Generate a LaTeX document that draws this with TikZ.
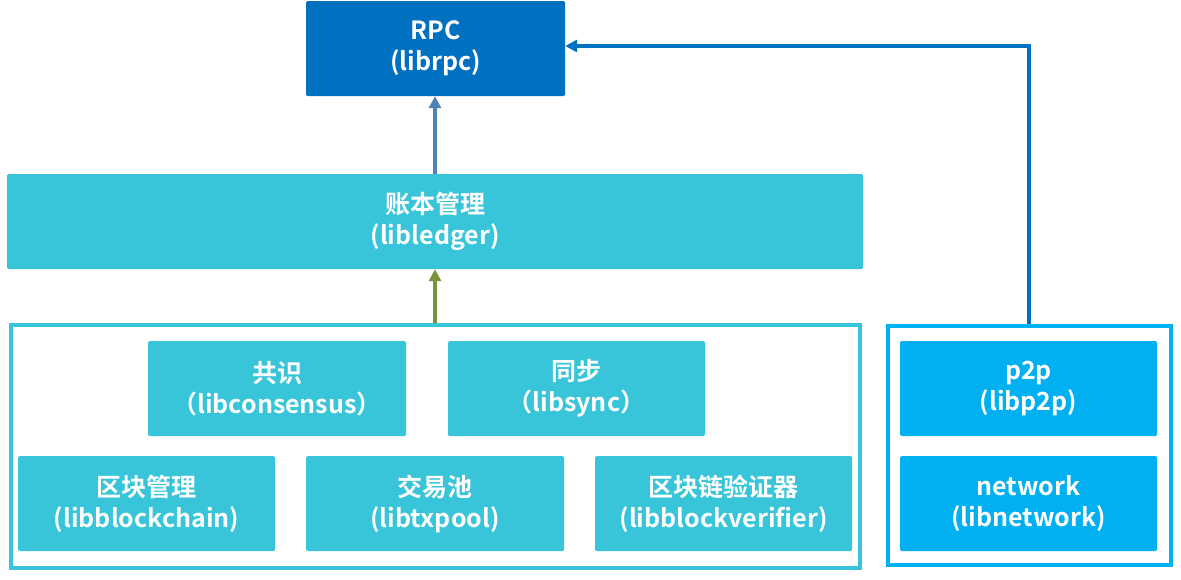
\documentclass[tikz,border=0pt]{standalone}
\usepackage{fontspec}
\setmainfont{Noto Sans CJK SC}[BoldFont={* Bold}]
\usetikzlibrary{arrows.meta}
\definecolor{rpcblue}{HTML}{0070C0}
\definecolor{cyanb}{HTML}{38C5D9}
\definecolor{skyb}{HTML}{00B0F0}
\definecolor{arrblue}{HTML}{4F81BD}
\definecolor{arrgreen}{HTML}{77933C}
\tikzset{
  box/.style={fill=#1, draw=none, rounded corners=1.5pt, text=white, align=center,
    font=\fontsize{25}{31}\selectfont\bfseries, inner sep=0pt},
  cont/.style={draw=#1, line width=4pt, fill=none},
  arr/.style={-{Triangle[length=12pt,width=12pt]}, line width=4pt},
}
\begin{document}
\begin{tikzpicture}[x=1pt,y=-1pt]
\useasboundingbox (0,0) rectangle (1181,579);
\newcommand\bx[6]{\node[box=#6, minimum width=#3-#1, minimum height=#4-#2] (#5) at ({(#1+#3)/2},{(#2+#4)/2})}
\bx{306}{1}{565}{96}{rpc}{rpcblue} {RPC\\(librpc)};
\bx{7}{174}{863}{269}{ledger}{cyanb} {账本管理\\(libledger)};
\draw[cont=cyanb] (11,325) rectangle (860,568);
\coordinate (lc) at (435,323);
\bx{148}{341}{406}{436}{cons}{cyanb} {共识\\（libconsensus）};
\bx{448}{341}{705}{436}{sync}{cyanb} {同步\\（libsync）};
\bx{18}{456}{275}{551}{bc}{cyanb} {区块管理\\(libblockchain)};
\bx{306}{456}{564}{551}{tx}{cyanb} {交易池\\(libtxpool)};
\bx{595}{456}{852}{551}{bv}{cyanb} {区块链验证器\\(libblockverifier)};
\draw[cont=skyb] (888,326) rectangle (1171,565);
\coordinate (rc) at (1029,324);
\bx{900}{341}{1157}{436}{p2p}{skyb} {p2p\\(libp2p)};
\bx{900}{456}{1157}{551}{net}{skyb} {network\\(libnetwork)};
\draw[arr, arrblue] (ledger.north -| 435,0) -- (rpc.south -| 435,0);
\draw[arr, arrgreen] (lc) -- (ledger.south -| 435,0);
\draw[arr, rpcblue] (rc) -- (1029,46) -- (rpc.east |- 0,46);
\end{tikzpicture}
\end{document}
